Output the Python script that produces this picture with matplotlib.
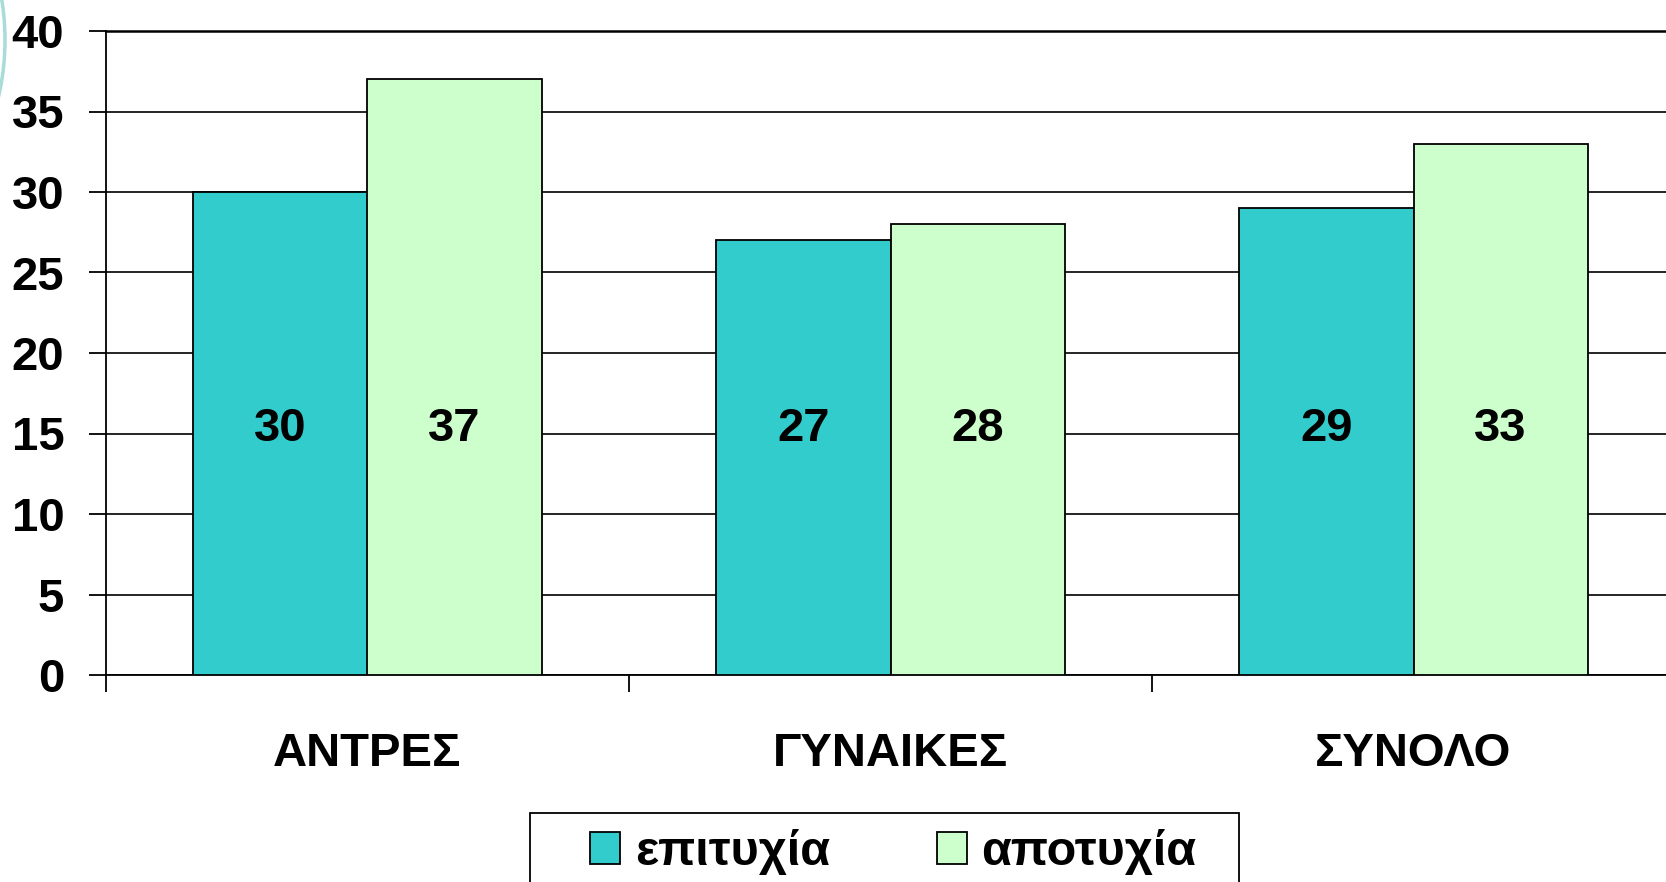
import numpy as np
import matplotlib.pyplot as plt
from matplotlib.patches import Patch, Arc, Rectangle

categories = ['ΑΝΤΡΕΣ', 'ΓΥΝΑΙΚΕΣ', 'ΣΥΝΟΛΟ']
success = [30, 27, 29]
failure = [37, 28, 33]
series_names = ['επιτυχία', 'αποτυχία']
yticks = [0, 5, 10, 15, 20, 25, 30, 35, 40]

plt.rcParams['font.family'] = ['Liberation Sans', 'DejaVu Sans']
plt.rcParams['font.weight'] = 'bold'

teal = '#33CCCC'
light_green = '#CCFFCC'

fig = plt.figure(figsize=(16.66, 8.82), dpi=100)
ax = fig.add_axes([106 / 1666, 207 / 882, 1569 / 1666, 644 / 882])

x = np.arange(len(categories)) + 0.5
w = 1 / 3
ax.bar(x - w / 2, success, width=w, color=teal, edgecolor='black', linewidth=1.3, zorder=3)
ax.bar(x + w / 2, failure, width=w, color=light_green, edgecolor='black', linewidth=1.3, zorder=3)

# value labels sit roughly at the same height inside each bar
for xi, s, f in zip(x, success, failure):
    ax.text(xi - w / 2, 15.3, str(s), ha='center', va='center', fontsize=34, fontweight='bold', zorder=4)
    ax.text(xi + w / 2, 15.3, str(f), ha='center', va='center', fontsize=34, fontweight='bold', zorder=4)

ax.set_xlim(0, 3)
ax.set_ylim(0, 40)
ax.set_yticks(yticks)
ax.set_yticklabels([str(t) for t in yticks], fontsize=34, fontweight='bold')
ax.yaxis.grid(True, color='black', linewidth=1.2, zorder=0)
ax.set_axisbelow(True)
ax.axhline(40, color='black', linewidth=1.8, zorder=1, clip_on=False)

ax.set_xticks([0, 1, 2, 3])
ax.set_xticklabels([])
ax.set_xticks(x, minor=True)
ax.set_xticklabels(categories, minor=True, fontsize=34, fontweight='bold')
ax.tick_params(axis='x', which='minor', length=0, pad=41)
ax.tick_params(axis='x', which='major', length=12, width=1.3, direction='out')
ax.tick_params(axis='y', length=12, width=1.3, direction='out', pad=18)

for side in ['top', 'right']:
    ax.spines[side].set_visible(False)
ax.spines['left'].set_linewidth(1.3)
ax.spines['bottom'].set_linewidth(1.3)

# legend box drawn separately, it runs off the bottom of the picture
box = Rectangle((530 / 1666, -0.05), (1239 - 530) / 1666, 0.05 + 1 - 813 / 882,
                transform=fig.transFigure, facecolor='white', edgecolor='black', linewidth=1.3)
fig.add_artist(box)

handles = [Patch(facecolor=teal, edgecolor='black', linewidth=1.3),
           Patch(facecolor=light_green, edgecolor='black', linewidth=1.3)]
leg = fig.legend(handles, series_names, loc='center left',
                 bbox_to_anchor=(590 / 1666, 1 - 852 / 882), ncol=2,
                 fontsize=35, frameon=False,
                 handlelength=0.62, handleheight=0.62, handletextpad=0.3,
                 columnspacing=2.2, borderpad=0, borderaxespad=0)
for t in leg.get_texts():
    t.set_fontweight('bold')

# slide decoration arc at the top-left edge
arc = Arc((-60 / 1666, 1 - 40 / 882), 130 / 1666, 260 / 882, transform=fig.transFigure,
          theta1=-90, theta2=90, color='#a8dcd9', linewidth=2.5)
fig.add_artist(arc)

fig.savefig('out.png', dpi=100)
